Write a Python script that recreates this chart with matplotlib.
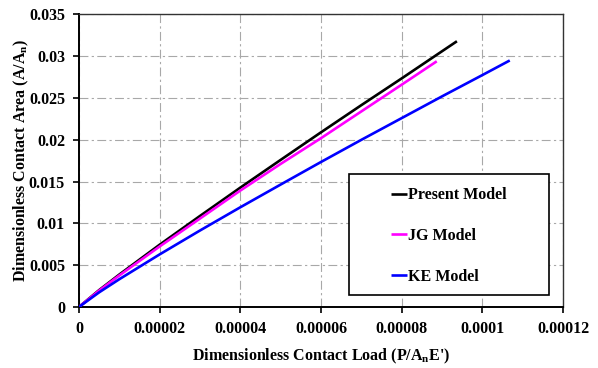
import matplotlib
matplotlib.use("Agg")
import matplotlib.pyplot as plt
from matplotlib.patches import Rectangle

plt.rcParams['font.family'] = ['Liberation Serif', 'DejaVu Serif']
plt.rcParams['font.weight'] = 'bold'
plt.rcParams['mathtext.fontset'] = 'custom'
plt.rcParams['mathtext.rm'] = 'Liberation Serif:bold'
plt.rcParams['mathtext.bf'] = 'Liberation Serif:bold'
plt.rcParams['mathtext.it'] = 'Liberation Serif:bold'

# Data
present_x = [0, 0.5e-5, 1e-5, 2e-5, 3e-5, 4e-5, 5e-5, 6e-5, 7e-5, 8e-5, 9e-5, 9.37e-5]
present_y = [0, 0.00202, 0.00388, 0.00745, 0.01089, 0.01428, 0.0176, 0.0209, 0.02415, 0.02735, 0.0306, 0.0318]

jg_x = [0, 0.5e-5, 1e-5, 2e-5, 3e-5, 4e-5, 5e-5, 6e-5, 7e-5, 8e-5, 8.87e-5]
jg_y = [0, 0.00196, 0.00377, 0.00724, 0.01058, 0.01393, 0.01712, 0.0202, 0.0234, 0.0266, 0.0294]

ke_x = [0, 0.5e-5, 1e-5, 2e-5, 3e-5, 4e-5, 5e-5, 6e-5, 7e-5, 8e-5, 9e-5, 1e-4, 1.068e-4]
ke_y = [0, 0.00175, 0.00332, 0.00629, 0.00915, 0.01193, 0.01465, 0.01735, 0.0200, 0.0226, 0.0252, 0.02775, 0.0295]

series_names = ["Present Model", "JG Model", "KE Model"]
series_colors = ["#000000", "#ff00ff", "#0000ff"]

x_ticks = [0, 0.00002, 0.00004, 0.00006, 0.00008, 0.0001, 0.00012]
x_tick_labels = ["0", "0.00002", "0.00004", "0.00006", "0.00008", "0.0001", "0.00012"]
y_ticks = [0, 0.005, 0.01, 0.015, 0.02, 0.025, 0.03, 0.035]
y_tick_labels = ["0", "0.005", "0.01", "0.015", "0.02", "0.025", "0.03", "0.035"]

fig = plt.figure(figsize=(5.98, 3.68), dpi=100)
ax = fig.add_axes([0.132, 0.1658, 0.8095, 0.7948])

data = [(present_x, present_y), (jg_x, jg_y), (ke_x, ke_y)]
handles = []
for (xs, ys), name, c in zip(data, series_names, series_colors):
    h, = ax.plot(xs, ys, color=c, lw=1.9, label=name, zorder=4, solid_capstyle='butt')
    handles.append(h)

ax.set_xlim(0, 0.00012)
ax.set_ylim(0, 0.035)
ax.set_xticks(x_ticks)
ax.set_xticklabels(x_tick_labels)
ax.set_yticks(y_ticks)
ax.set_yticklabels(y_tick_labels)
ax.tick_params(axis='both', direction='out', length=4, width=1.2, labelsize=11.5, pad=6)
for lab in ax.get_xticklabels() + ax.get_yticklabels():
    lab.set_fontweight('bold')

ax.grid(True, color='#a8a8a8', lw=0.8, linestyle=(0, (8, 3, 2, 3)))
ax.set_axisbelow(True)

for s in ['left', 'bottom']:
    ax.spines[s].set_linewidth(1.4)
    ax.spines[s].set_color('black')
for s in ['top', 'right']:
    ax.spines[s].set_linewidth(1.0)
    ax.spines[s].set_color('#333333')

ax.set_xlabel("Dimensionless Contact Load (P/A$_\\mathbf{n}$E')", fontsize=11.5, fontweight='bold')
ax.set_ylabel("Dimensionless Contact Area (A/A$_\\mathbf{n}$)", fontsize=11.5, fontweight='bold')
ax.xaxis.set_label_coords(0.5, -0.135)
ax.yaxis.set_label_coords(-0.098, 0.5)

box = Rectangle((0.558, 0.041), 0.413, 0.414, transform=ax.transAxes,
                facecolor='white', edgecolor='black', lw=1.2, zorder=5)
ax.add_patch(box)
leg = ax.legend(handles=handles, loc='center', bbox_to_anchor=(0.7645, 0.243),
                frameon=False, handlelength=1.0, handletextpad=0.1,
                labelspacing=1.55, prop={'weight': 'bold', 'size': 11.5})
leg.set_zorder(6)

fig.savefig("out.png", dpi=100)
